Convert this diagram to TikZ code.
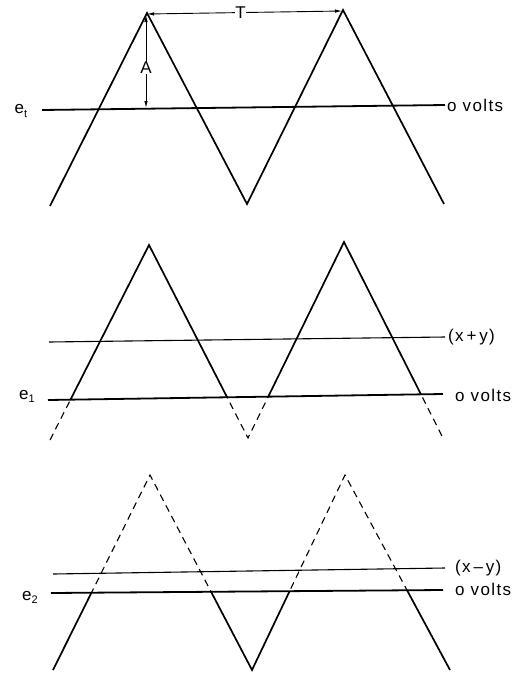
\documentclass[tikz,border=0pt]{standalone}
\usepackage{fontspec}
\setmainfont{Liberation Sans}
\usetikzlibrary{arrows.meta}
\newcommand{\lowsub}[1]{\raisebox{-0.35ex}{\fontsize{11}{12}\selectfont #1}}
\tikzset{
  wave/.style={line width=1.7pt, line join=miter},
  dwave/.style={line width=1.1pt, dash pattern=on 7pt off 5pt},
  zline/.style={line width=1.8pt},
  lvl/.style={line width=1.1pt},
  lab/.style={font=\fontsize{17}{19}\selectfont\addfontfeature{LetterSpace=8}, inner sep=0pt, anchor=west},
  elab/.style={font=\fontsize{17}{19}\selectfont, inner sep=0pt},
  dim/.style={line width=0.9pt, {Latex[length=7pt,width=3.5pt]}-{Latex[length=7pt,width=3.5pt]}}
}
\begin{document}
\begin{tikzpicture}[x=1pt,y=-1pt]
\useasboundingbox (0,0) rectangle (515,673);
% ---------- panel 1 ----------
\draw[wave] (50,206) -- (147,13) -- (247,204) -- (343,10) -- (444,204);
\draw[zline] (42,110) -- (445,105);
\coordinate (p1) at (147,14);
\coordinate (p2) at (342,11);
\coordinate (z1) at (146,108);
\draw[dim] (146,15) -- (z1) node[pos=0.57, fill=white, inner xsep=1pt, inner ysep=2pt, elab] (A) {A};
\draw[dim] (p1) -- (p2) node[pos=0.48, fill=white, inner ysep=0pt, inner xsep=4pt, elab] (T) {T};
\node[elab] (et) at (21,111) {e\lowsub{t}};
\node[lab] (ov1) at (447,105) {o volts};
% ---------- panel 2 ----------
\begin{scope}
\clip (0,0) -- (515,0) -- (515,392.9) -- (0,400.7) -- cycle;
\draw[wave] (50,440) -- (149,245) -- (248,438) -- (344,242) -- (444,440);
\end{scope}
\begin{scope}
\clip (0,400.7) -- (515,392.9) -- (515,673) -- (0,673) -- cycle;
\draw[dwave] (50,440) -- (149,245) -- (248,438) -- (344,242) -- (444,440);
\end{scope}
\draw[lvl] (49,342) -- (445,337);
\draw[zline] (48,400) -- (443,394);
\node[elab] (e1) at (27,396) {e\lowsub{1}};
\node[lab] (xy) at (448,337) {(x\,+\,y)};
\node[lab] (ov2) at (455,395) {o volts};
% ---------- panel 3 ----------
\begin{scope}
\clip (0,0) -- (515,0) -- (515,589.4) -- (0,593.4) -- cycle;
\draw[dwave] (53,670) -- (150,475) -- (252,670) -- (345,475) -- (450,670);
\end{scope}
\begin{scope}
\clip (0,593.4) -- (515,589.4) -- (515,673) -- (0,673) -- cycle;
\draw[wave] (53,670) -- (150,475) -- (252,670) -- (345,475) -- (450,670);
\end{scope}
\draw[lvl] (53,574) -- (445,568);
\draw[zline] (51,593) -- (443,590);
\node[elab] (e2) at (30,597) {e\lowsub{2}};
\node[lab] (xmy) at (455,568) {(x\,--\,y)};
\node[lab] (ov3) at (455,589) {o volts};
\end{tikzpicture}
\end{document}
